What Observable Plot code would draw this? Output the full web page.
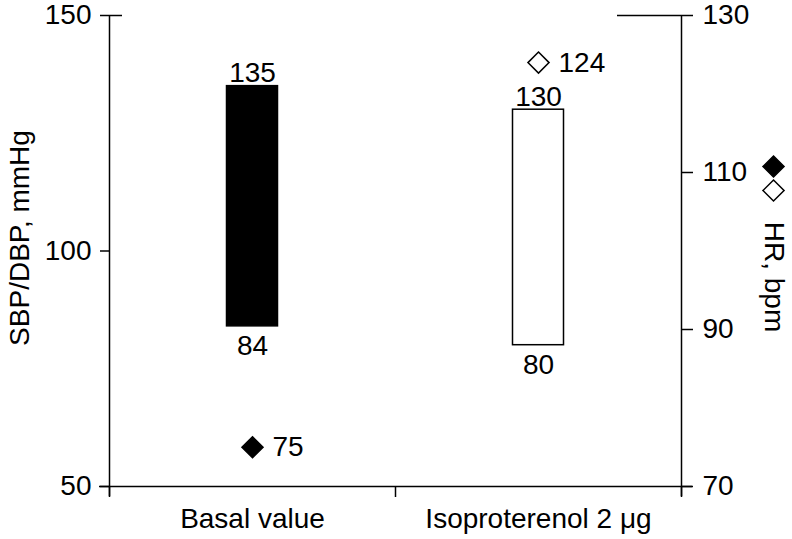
<!DOCTYPE html>
<html>
<head>
<meta charset="utf-8">
<script src="https://cdn.jsdelivr.net/npm/d3@7"></script>
<script src="https://cdn.jsdelivr.net/npm/@observablehq/plot@0.6"></script>
<style>
  html, body { margin: 0; padding: 0; background: #fff; }
  #chart svg { display: block; }
</style>
</head>
<body>
<div id="chart"></div>
<script>
// Data
const categories = ["Basal value", "Isoproterenol 2 μg"];
const sbp = [135, 130];
const dbp = [84, 80];
const hr = [75, 124];
const barFills = ["#000000", "#ffffff"];
const hrFills = ["#000000", "#ffffff"];
const leftTicks = [50, 100, 150];
const rightTicks = [70, 90, 110, 130];

// Map HR (right axis 70–130) onto the left axis domain (50–150)
const hrToP = h => 50 + (h - 70) * 100 / 60;
const pToHr = p => Math.round(70 + (p - 50) * 60 / 100);

const rows = categories.map((c, i) => ({
  cat: c, i, sbp: sbp[i], dbp: dbp[i], hr: hr[i], fill: barFills[i], hrFill: hrFills[i]
}));

const font = "'Liberation Sans', Arial, Helvetica, sans-serif";
const fs = 28;

const chart = Plot.plot({
  width: 792,
  height: 539,
  marginLeft: 109,
  marginRight: 111,
  marginTop: 15,
  marginBottom: 53,
  style: { fontFamily: font, fontSize: fs + "px", color: "#000", background: "#fff", overflow: "visible" },
  x: { type: "linear", domain: [0, 2] },
  y: { domain: [50, 150] },
  marks: [
    // axis lines
    Plot.ruleX([0, 2], { stroke: "#000", strokeWidth: 1.5, insetBottom: -10 }),
    Plot.ruleY([50], { stroke: "#000", strokeWidth: 1.5, insetLeft: -10, insetRight: -11 }),
    // left axis
    Plot.axisY(leftTicks, { anchor: "left", tickSize: 9, tickPadding: 9, fontSize: fs, strokeWidth: 1.5, label: null }),
    Plot.axisY([150], { anchor: "left", tickSize: -13, tickFormat: () => "", strokeWidth: 1.5, label: null }),
    // right axis (HR)
    Plot.axisY(rightTicks.map(hrToP), { anchor: "right", tickSize: 11, tickPadding: 10, fontSize: fs, strokeWidth: 1.5, tickFormat: pToHr, label: null }),
    Plot.axisY([hrToP(130)], { anchor: "right", tickSize: -65, tickFormat: () => "", strokeWidth: 1.5, label: null }),
    // bottom axis
    Plot.axisX([0, 1, 2], { tickSize: 11, tickFormat: () => "", strokeWidth: 1.5, label: null }),
    Plot.axisX([0.5, 1.5], { tickSize: 0, tickPadding: 22, fontSize: fs, tickFormat: v => categories[Math.floor(v)], label: null }),
    // bars
    Plot.rectY(rows, {
      x1: d => d.i, x2: d => d.i + 1, y1: "dbp", y2: "sbp",
      fill: "fill", stroke: "#000", strokeWidth: 1.5, insetLeft: 117.5, insetRight: 117.5
    }),
    Plot.text(rows, { x: d => d.i + 0.5, y: "sbp", text: d => String(d.sbp), lineAnchor: "bottom", dy: -4, fontSize: fs, fill: "#000" }),
    Plot.text(rows, { x: d => d.i + 0.5, y: "dbp", text: d => String(d.dbp), lineAnchor: "top", dy: 9, fontSize: fs, fill: "#000" }),
    // HR diamonds
    Plot.dot(rows, { x: d => d.i + 0.5, y: d => hrToP(d.hr), symbol: "diamond2", r: 9.5, fill: "hrFill", stroke: "#000", strokeWidth: 1.5 }),
    Plot.text(rows, { x: d => d.i + 0.5, y: d => hrToP(d.hr), text: d => String(d.hr), textAnchor: "start", lineAnchor: "middle", dx: 20, fontSize: fs, fill: "#000" }),
    // legend for HR symbols
    Plot.dot(hrFills, { frameAnchor: "top-right", dx: 92, dy: 151, fill: d => d, stroke: "#000", strokeWidth: 1.5, symbol: "diamond2", r: 9.5, filter: (d, i) => i === 0 }),
    Plot.dot(hrFills, { frameAnchor: "top-right", dx: 92, dy: 175, fill: d => d, stroke: "#000", strokeWidth: 1.5, symbol: "diamond2", r: 9.5, filter: (d, i) => i === 1 }),
    // axis titles
    Plot.text(["HR, bpm"], { frameAnchor: "right", dx: 92, dy: 26, rotate: 90, textAnchor: "middle", lineAnchor: "middle", fontSize: fs, fill: "#000" }),
    Plot.text(["SBP/DBP, mmHg"], { frameAnchor: "left", dx: -89, dy: -13, rotate: -90, textAnchor: "middle", lineAnchor: "middle", fontSize: fs, fill: "#000" })
  ]
});

document.getElementById("chart").appendChild(chart);
</script>
</body>
</html>
